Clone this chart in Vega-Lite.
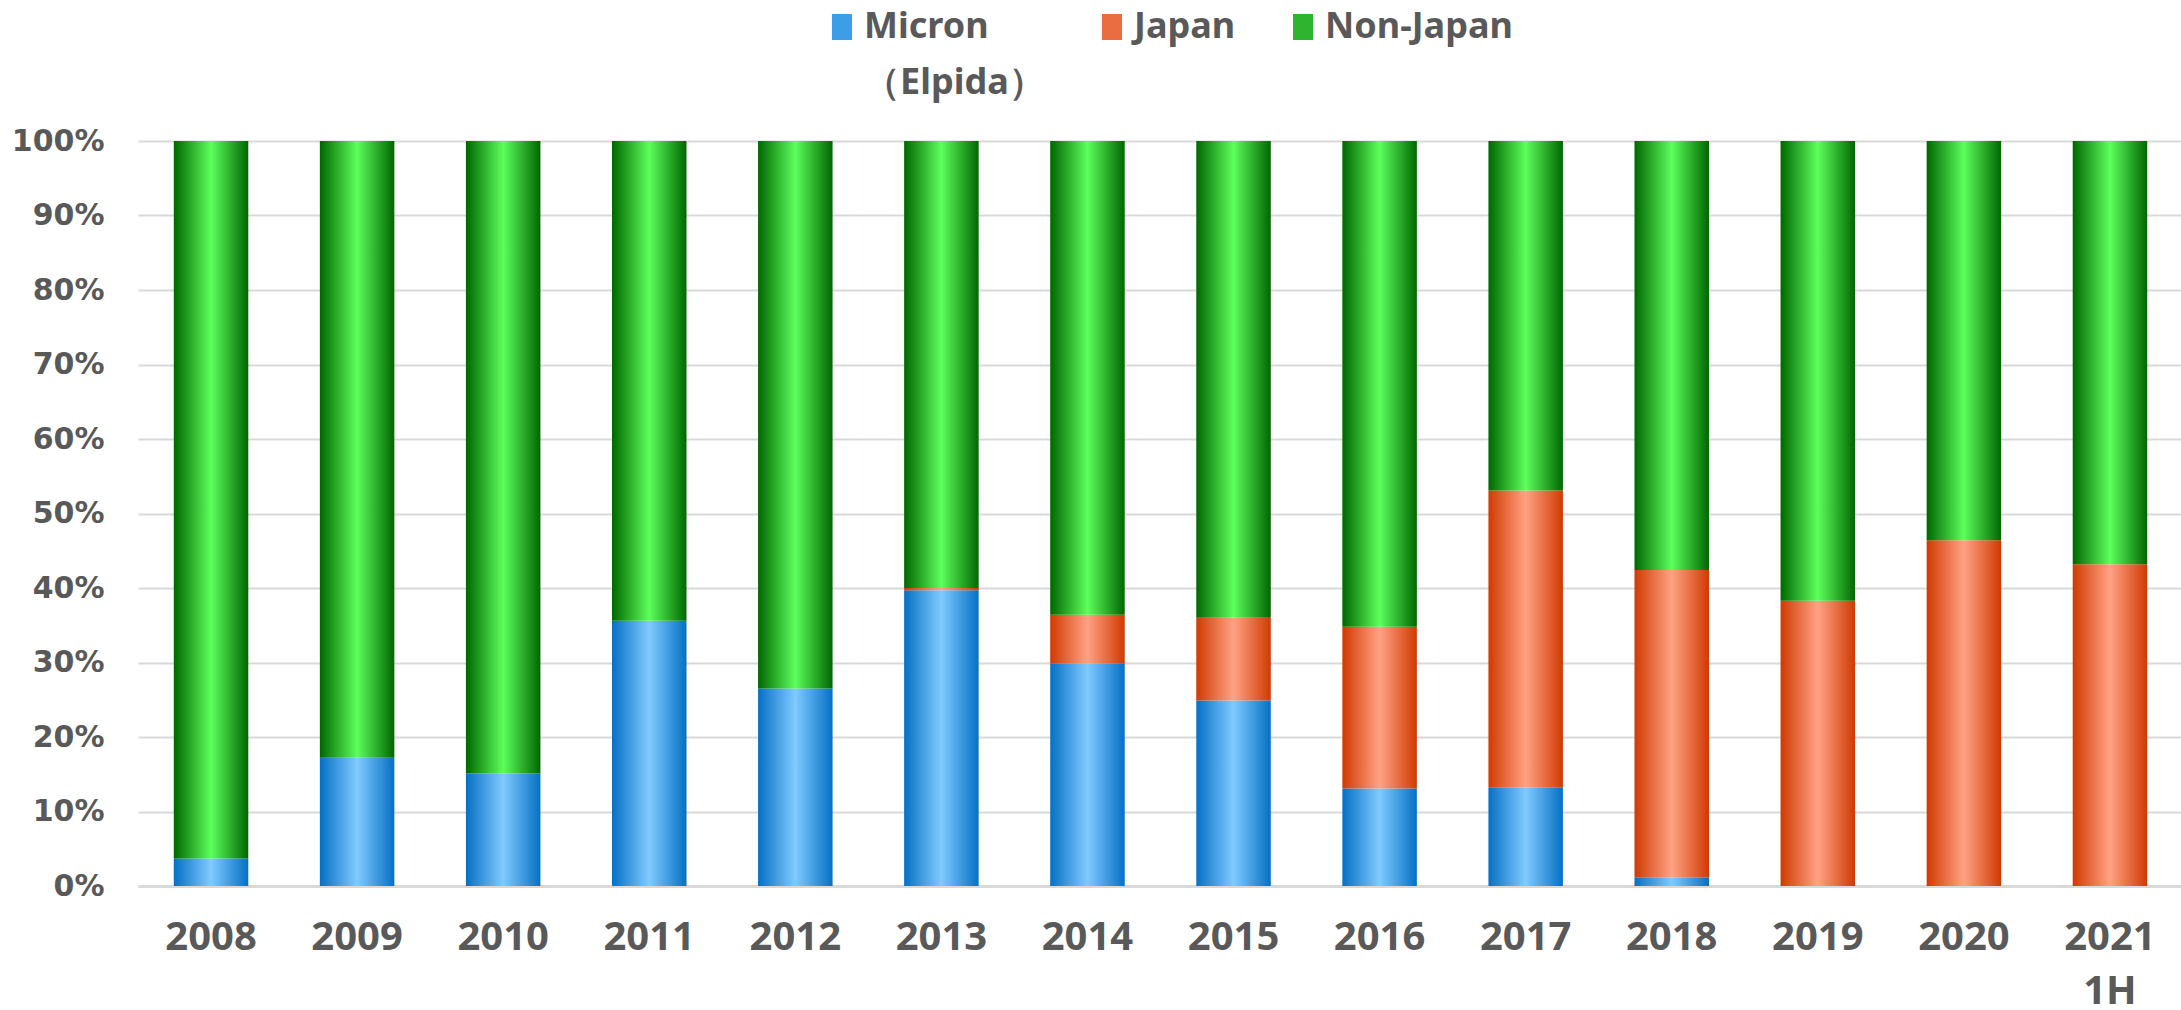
{
  "$schema": "https://vega.github.io/schema/vega-lite/v6.json",
  "width": 2045,
  "height": 745,
  "autosize": {"type": "none"},
  "padding": {"left": 138, "top": 141, "right": 0, "bottom": 124},
  "background": "white",
  "data": {
    "values": [
      {"year": "2008", "series": "Micron", "share": 3.7},
      {"year": "2008", "series": "Japan", "share": 0},
      {"year": "2008", "series": "Non-Japan", "share": 96.3},
      {"year": "2009", "series": "Micron", "share": 17.2},
      {"year": "2009", "series": "Japan", "share": 0},
      {"year": "2009", "series": "Non-Japan", "share": 82.8},
      {"year": "2010", "series": "Micron", "share": 15.1},
      {"year": "2010", "series": "Japan", "share": 0},
      {"year": "2010", "series": "Non-Japan", "share": 84.9},
      {"year": "2011", "series": "Micron", "share": 35.6},
      {"year": "2011", "series": "Japan", "share": 0},
      {"year": "2011", "series": "Non-Japan", "share": 64.4},
      {"year": "2012", "series": "Micron", "share": 26.5},
      {"year": "2012", "series": "Japan", "share": 0},
      {"year": "2012", "series": "Non-Japan", "share": 73.5},
      {"year": "2013", "series": "Micron", "share": 39.7},
      {"year": "2013", "series": "Japan", "share": 0.3},
      {"year": "2013", "series": "Non-Japan", "share": 60.0},
      {"year": "2014", "series": "Micron", "share": 29.9},
      {"year": "2014", "series": "Japan", "share": 6.5},
      {"year": "2014", "series": "Non-Japan", "share": 63.6},
      {"year": "2015", "series": "Micron", "share": 24.9},
      {"year": "2015", "series": "Japan", "share": 11.1},
      {"year": "2015", "series": "Non-Japan", "share": 64.0},
      {"year": "2016", "series": "Micron", "share": 13.1},
      {"year": "2016", "series": "Japan", "share": 21.7},
      {"year": "2016", "series": "Non-Japan", "share": 65.2},
      {"year": "2017", "series": "Micron", "share": 13.2},
      {"year": "2017", "series": "Japan", "share": 39.9},
      {"year": "2017", "series": "Non-Japan", "share": 46.9},
      {"year": "2018", "series": "Micron", "share": 1.1},
      {"year": "2018", "series": "Japan", "share": 41.3},
      {"year": "2018", "series": "Non-Japan", "share": 57.6},
      {"year": "2019", "series": "Micron", "share": 0},
      {"year": "2019", "series": "Japan", "share": 38.3},
      {"year": "2019", "series": "Non-Japan", "share": 61.7},
      {"year": "2020", "series": "Micron", "share": 0},
      {"year": "2020", "series": "Japan", "share": 46.4},
      {"year": "2020", "series": "Non-Japan", "share": 53.6},
      {"year": "2021 1H", "series": "Micron", "share": 0},
      {"year": "2021 1H", "series": "Japan", "share": 43.2},
      {"year": "2021 1H", "series": "Non-Japan", "share": 56.8}
    ]
  },
  "transform": [
    {"calculate": "indexof(['Micron', 'Japan', 'Non-Japan'], datum.series)", "as": "rank"}
  ],
  "mark": {"type": "bar"},
  "encoding": {
    "x": {
      "field": "year",
      "type": "nominal",
      "sort": null,
      "scale": {"paddingInner": 0.49, "paddingOuter": 0.245},
      "axis": {
        "title": null,
        "labelAngle": 0,
        "labelExpr": "split(datum.label, ' ')",
        "labelFont": "Noto Sans",
        "labelFontWeight": "bold",
        "labelFontSize": 40,
        "labelColor": "#595959",
        "labelPadding": 31,
        "labelLineHeight": 54,
        "ticks": false,
        "domainColor": "#D9D9D9",
        "domainWidth": 3
      }
    },
    "y": {
      "field": "share",
      "type": "quantitative",
      "stack": "normalize",
      "scale": {"domain": [0, 1]},
      "axis": {
        "title": null,
        "format": ".0%",
        "values": [0, 0.1, 0.2, 0.3, 0.4, 0.5, 0.6, 0.7, 0.8, 0.9, 1],
        "labelFont": "DejaVu Sans",
        "labelFontWeight": "bold",
        "labelFontSize": 30,
        "labelColor": "#595959",
        "labelPadding": 34,
        "ticks": false,
        "domain": false,
        "gridColor": "#D9D9D9",
        "gridWidth": 2
      }
    },
    "order": {"field": "rank", "type": "quantitative", "sort": "ascending"},
    "color": {
      "field": "series",
      "type": "nominal",
      "condition": [
        {"test": "datum.series === 'Micron'", "value": {"gradient": "linear", "x1": 0, "y1": 0, "x2": 1, "y2": 0, "stops": [{"offset": 0, "color": "#0570C4"}, {"offset": 0.5, "color": "#80CAFF"}, {"offset": 1, "color": "#0570C4"}]}},
        {"test": "datum.series === 'Japan'", "value": {"gradient": "linear", "x1": 0, "y1": 0, "x2": 1, "y2": 0, "stops": [{"offset": 0, "color": "#D03A02"}, {"offset": 0.5, "color": "#FFA283"}, {"offset": 1, "color": "#D03A02"}]}},
        {"test": "datum.series === 'Non-Japan'", "value": {"gradient": "linear", "x1": 0, "y1": 0, "x2": 1, "y2": 0, "stops": [{"offset": 0, "color": "#006700"}, {"offset": 0.5, "color": "#5CFF5C"}, {"offset": 1, "color": "#006700"}]}}
      ],
      "scale": {
        "domain": ["Micron", "Japan", "Non-Japan"],
        "range": ["#3C9EE6", "#EA6D42", "#2EB42E"]
      },
      "legend": {
        "title": null,
        "orient": "none",
        "legendX": 686,
        "legendY": -132,
        "direction": "horizontal",
        "columns": 3,
        "gridAlign": "each",
        "columnPadding": 49,
        "symbolType": "M-0.77,-1H0.77V1H-0.77Z",
        "symbolSize": 676,
        "symbolStrokeWidth": 0,
        "labelExpr": "datum.label == 'Micron' ? ['Micron', '（Elpida）'] : [datum.label, ' ']",
        "labelFont": "Noto Sans",
        "labelFontWeight": "bold",
        "labelFontSize": 36,
        "labelColor": "#595959",
        "labelOffset": 4,
        "labelLimit": 400,
        "encode": {
          "labels": {
            "update": {"lineHeight": {"value": 56}}
          },
          "symbols": {
            "update": {
              "fill": [
                {"test": "datum.value === 'Micron'", "value": {"gradient": "linear", "x1": 0, "y1": 0, "x2": 1, "y2": 0, "stops": [{"offset": 0, "color": "#0570C4"}, {"offset": 0.5, "color": "#80CAFF"}, {"offset": 1, "color": "#0570C4"}]}},
                {"test": "datum.value === 'Japan'", "value": {"gradient": "linear", "x1": 0, "y1": 0, "x2": 1, "y2": 0, "stops": [{"offset": 0, "color": "#D03A02"}, {"offset": 0.5, "color": "#FFA283"}, {"offset": 1, "color": "#D03A02"}]}},
                {"value": {"gradient": "linear", "x1": 0, "y1": 0, "x2": 1, "y2": 0, "stops": [{"offset": 0, "color": "#006700"}, {"offset": 0.5, "color": "#5CFF5C"}, {"offset": 1, "color": "#006700"}]}}
              ]
            }
          }
        }
      }
    }
  },
  "config": {"view": {"stroke": null}}
}
